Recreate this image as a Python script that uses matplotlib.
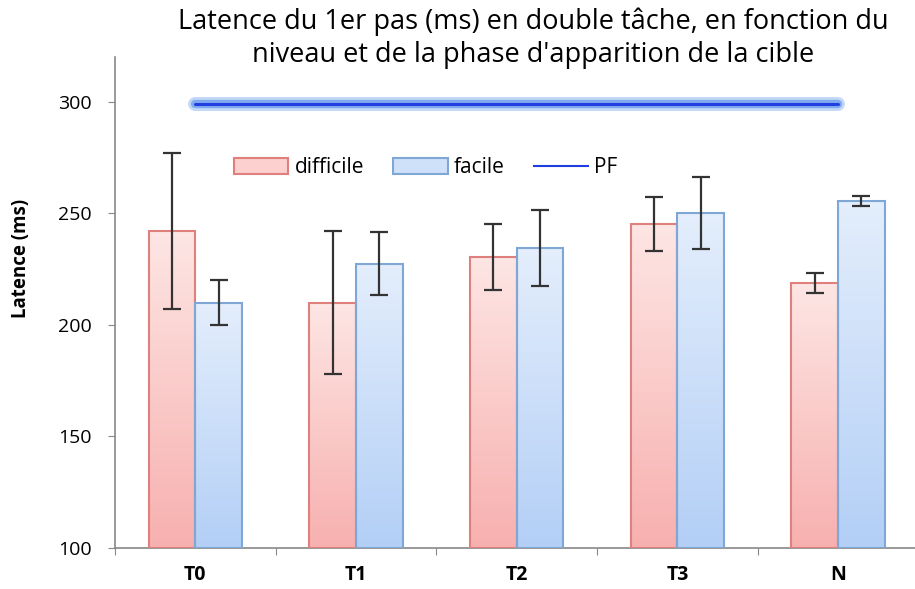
import numpy as np
import matplotlib.pyplot as plt
from matplotlib.patches import Patch
from matplotlib.lines import Line2D
import matplotlib.patheffects as pe

plt.rcParams['font.family'] = ['Open Sans', 'DejaVu Sans']

categories = ['T0', 'T1', 'T2', 'T3', 'N']
difficile = [242, 210, 230.5, 245.3, 218.8]
difficile_err = [35, 32, 15, 12, 4.5]
facile = [210, 227.5, 234.5, 250.2, 255.6]
facile_err = [10, 14, 17, 16, 2.3]
pf = [299, 299, 299, 299, 299]

fig = plt.figure(figsize=(9.15, 5.89), dpi=100)
ax = fig.add_axes([0.1257, 0.0696, 0.878, 0.833])

x = np.arange(len(categories))
w = 0.29

def gradient_bars(xpos, vals, top_col, bot_col, edge):
    bars = ax.bar(xpos, np.array(vals) - 100, w, bottom=100, facecolor='none',
                  edgecolor=edge, linewidth=1.5, zorder=3)
    grad = np.linspace(0, 1, 256).reshape(-1, 1)
    c1 = np.array(plt.matplotlib.colors.to_rgb(top_col))
    c2 = np.array(plt.matplotlib.colors.to_rgb(bot_col))
    img = c1 + (c2 - c1) * grad[..., None]
    img = img.reshape(256, 1, 3)
    for b, v in zip(bars, vals):
        x0 = b.get_x()
        im = ax.imshow(img, extent=[x0, x0 + w, 100, v], aspect='auto',
                       origin='upper', zorder=2)
        im.set_clip_path(b)
    return bars

gradient_bars(x - w / 2, difficile, '#fde6e4', '#f7b0af', '#e0807c')
gradient_bars(x + w / 2, facile, '#e4eefc', '#b3cff6', '#7ea7d6')

ax.errorbar(x - w / 2, difficile, yerr=difficile_err, fmt='none', ecolor='#333333',
            elinewidth=1.6, capsize=6.5, capthick=1.6, zorder=4)
ax.errorbar(x + w / 2, facile, yerr=facile_err, fmt='none', ecolor='#333333',
            elinewidth=1.6, capsize=6.5, capthick=1.6, zorder=4)

ax.plot(x, pf, color='#1f3fe0', linewidth=2.2, solid_capstyle='round', zorder=5,
        path_effects=[pe.Stroke(linewidth=10, foreground='#c2d8f7'),
                      pe.Stroke(linewidth=6, foreground='#7faaf0'), pe.Normal()])

ax.set_xlim(-0.5, 4.5)
ax.set_ylim(100, 320)
ax.set_yticks([100, 150, 200, 250, 300])
ax.set_xticks(np.arange(-0.5, 5, 1), minor=False)
ax.set_xticklabels([])
ax.set_xticks(x, minor=True)
ax.set_xticklabels(categories, minor=True, fontweight='bold', fontsize=14)
ax.tick_params(axis='x', which='minor', length=0, pad=12)
ax.tick_params(axis='x', which='major', length=5, direction='out', color='#888888')
ax.tick_params(axis='y', length=5, color='#888888', labelsize=14, pad=12)

for s in ['top', 'right']:
    ax.spines[s].set_visible(False)
for s in ['left', 'bottom']:
    ax.spines[s].set_color('#888888')
    ax.spines[s].set_linewidth(1.2)

ax.set_ylabel('Latence (ms)', fontweight='bold', fontsize=13.5, labelpad=10)
ax.yaxis.set_label_coords(-0.105, 0.59)

fig.text(0.583, 0.988, "Latence du 1er pas (ms) en double tâche, en fonction du\nniveau et de la phase d'apparition de la cible",
         ha='center', va='top', fontsize=19.5, linespacing=1.25)

handles = [Patch(facecolor='#fbd0ce', edgecolor='#e0807c', linewidth=1.5),
           Patch(facecolor='#cfe0f9', edgecolor='#7ea7d6', linewidth=1.5),
           Line2D([0], [0], color='#1f3fe0', linewidth=1.5)]
ax.legend(handles, ['difficile', 'facile', 'PF'], ncol=3, frameon=False,
          loc='center', bbox_to_anchor=(0.387, 0.775), fontsize=15,
          handlelength=2.6, handleheight=0.8, handletextpad=0.3, columnspacing=1.4)

fig.savefig('out.png', dpi=100)
